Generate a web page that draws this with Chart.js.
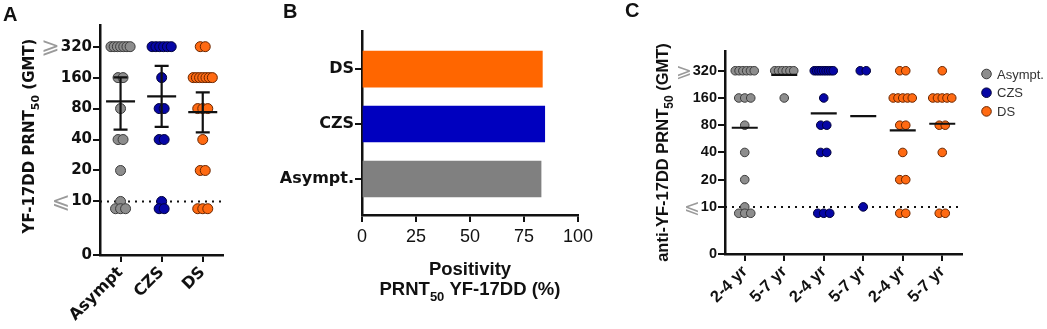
<!DOCTYPE html>
<html>
<head>
<meta charset="utf-8">
<script src="https://cdn.jsdelivr.net/npm/chart.js@4.4.1/dist/chart.umd.min.js"></script>
<style>
  html, body { margin: 0; padding: 0; background: #fff; }
  #wrap { position: relative; width: 1047px; height: 329px; overflow: hidden; }
  .panel { position: absolute; top: 0; }
</style>
</head>
<body>
<div id="wrap">
  <canvas id="chartA" class="panel" style="left:0" width="240" height="329"></canvas>
  <canvas id="chartB" class="panel" style="left:235px" width="362" height="329"></canvas>
  <canvas id="chartC" class="panel" style="left:590px" width="457" height="329"></canvas>
</div>
<script>
// ---- données ----
const groups = ['Asympt.', 'CZS', 'DS']
const groupFill = ['#8d8d8d', '#0606a6', '#ff6a12']
const groupEdge = ['#3c3c3c', '#00003a', '#6a2600']
const barColors = ['#808080', '#0000bf', '#ff6600']

const threshold = 10
const yTicks = [10, 20, 40, 80, 160, 320]

// Panel A : titres PRNT50 par groupe
const labelsA = ['Asympt', 'CZS', 'DS']
const titersAsympt = [320, 320, 320, 320, 320, 320, 320, 160, 160, 80, 40, 40, 20, 10, 8.5, 8.5, 8.5]
const titersCZS = [320, 320, 320, 320, 320, 320, 160, 80, 80, 40, 40, 10, 8.5, 8.5]
const titersDS = [320, 320, 160, 160, 160, 160, 160, 160, 160, 80, 80, 80, 40, 20, 20, 8.5, 8.5, 8.5]
const gmtA = [94, 105, 74]
const gmtLowA = [50, 53, 47]
const gmtHighA = [161, 208, 115]

// Panel B : positivité (%)
const labelsB = ['Asympt.', 'CZS', 'DS']
const positivity = [82.9, 84.6, 83.5]

// Panel C : titres par tranche d'âge
const labelsC = ['2-4 yr', '5-7 yr', '2-4 yr', '5-7 yr', '2-4 yr', '5-7 yr']
const titersAsympt24 = [320, 320, 320, 320, 320, 320, 160, 160, 160, 80, 40, 20, 10, 8.5, 8.5, 8.5]
const titersAsympt57 = [320, 320, 320, 320, 320, 320, 160]
const titersCZS24 = [320, 320, 320, 320, 320, 320, 320, 320, 320, 160, 80, 80, 40, 40, 8.5, 8.5, 8.5]
const titersCZS57 = [320, 320, 10]
const titersDS24 = [320, 320, 160, 160, 160, 160, 160, 80, 80, 40, 20, 20, 8.5, 8.5]
const titersDS57 = [320, 160, 160, 160, 160, 160, 80, 80, 40, 8.5, 8.5]
const gmtC = [75, 288, 108, 101, 70, 83]

// ---- helpers ----
const breakPos = -1.73 // position du "0" sur l'axe (coupure)
const lg = (v) => Math.log2(v / threshold)
const ink = '#111'

// étale les points de même valeur autour de la catégorie
function spread(titers, cat, pxPerUnit, maxStep, maxSpan) {
  const counts = {}
  titers.forEach((v) => (counts[v] = (counts[v] || 0) + 1))
  const out = []
  Object.keys(counts).forEach((k) => {
    const n = counts[k]
    const step = n > 1 ? Math.min(maxStep, maxSpan / (n - 1)) : 0
    for (let i = 0; i < n; i++) {
      out.push({ x: cat + ((i - (n - 1) / 2) * step) / pxPerUnit, y: lg(+k) })
    }
  })
  return out
}

function richText(ctx, parts, x, y, size, family, align, rotate) {
  ctx.save()
  ctx.translate(x, y)
  if (rotate) ctx.rotate(-Math.PI / 2)
  const fonts = parts.map((p) => `bold ${p[1] ? Math.round(size * 0.7) : size}px ${family}`)
  let total = 0
  const widths = parts.map((p, i) => {
    ctx.font = fonts[i]
    const w = ctx.measureText(p[0]).width
    total += w
    return w
  })
  let cx = align === 'center' ? -total / 2 : 0
  ctx.textAlign = 'left'
  ctx.textBaseline = 'alphabetic'
  ctx.fillStyle = ink
  parts.forEach((p, i) => {
    ctx.font = fonts[i]
    ctx.fillText(p[0], cx, p[1] ? size * 0.3 : 0)
    cx += widths[i]
  })
  ctx.restore()
}

function letter(ctx, txt, x, y) {
  ctx.save()
  ctx.font = 'bold 20px "Liberation Sans", Arial, sans-serif'
  ctx.fillStyle = ink
  ctx.textBaseline = 'alphabetic'
  ctx.fillText(txt, x, y)
  ctx.restore()
}

// symboles ⩾ / ⩽ gris devant 320 et 10
function bounds(chart, fontStr, symSize) {
  const s = chart.scales.y
  const ctx = chart.ctx
  ctx.save()
  ctx.font = fontStr
  const right = s.right - 8
  const w320 = ctx.measureText('320').width
  const w10 = ctx.measureText('10').width
  ctx.font = `${symSize}px "DejaVu Sans", sans-serif`
  ctx.fillStyle = '#9a9a9a'
  ctx.textAlign = 'right'
  ctx.textBaseline = 'middle'
  ctx.fillText('⩾', right - w320 - 1, s.getPixelForValue(lg(320)) + 1)
  ctx.fillText('⩽', right - w10 - 1, s.getPixelForValue(lg(10)) + 1)
  ctx.restore()
}

function titerAxis(width, font) {
  return {
    type: 'linear',
    min: breakPos,
    max: 5.7,
    afterBuildTicks: (s) => {
      s.ticks = [breakPos, ...yTicks.map(lg)].map((v) => ({ value: v }))
    },
    ticks: {
      callback: (v) => (v === breakPos ? '0' : String(Math.round(threshold * 2 ** v))),
      color: ink,
      font: font,
      padding: 1,
    },
    grid: { drawOnChartArea: false, tickLength: 7, color: ink, lineWidth: 2 },
    border: { color: ink, width: 2.5 },
    afterFit: (s) => {
      s.width = width
      s.paddingTop = 0
      s.paddingBottom = 0
    },
  }
}

function catAxis(labels, height, font) {
  return {
    type: 'linear',
    min: -0.5,
    max: labels.length - 0.5,
    afterBuildTicks: (s) => {
      s.ticks = labels.map((_, i) => ({ value: i }))
    },
    ticks: { callback: (v) => labels[v], minRotation: 45, maxRotation: 45, color: ink, font: font, padding: 1 },
    grid: { drawOnChartArea: false, tickLength: 7, color: ink, lineWidth: 2 },
    border: { color: ink, width: 2.5 },
    afterFit: (s) => {
      s.height = height
      s.paddingLeft = 0
      s.paddingRight = 0
    },
  }
}

function pointSet(data, g, radius, order) {
  return {
    type: 'scatter',
    data: data,
    backgroundColor: groupFill[g],
    borderColor: groupEdge[g],
    borderWidth: 1,
    pointRadius: radius,
    order: order,
  }
}

function thresholdSet(n) {
  return {
    type: 'line',
    data: [{ x: -0.5, y: lg(threshold) }, { x: n - 0.5, y: lg(threshold) }],
    borderColor: ink,
    borderWidth: 2,
    borderDash: [2, 5],
    pointRadius: 0,
    order: 10,
  }
}

const baseOpts = {
  responsive: false,
  animation: false,
  devicePixelRatio: 1,
  plugins: { legend: { display: false }, tooltip: { enabled: false } },
}

// ---- Panel A ----
const fontA = { family: '"DejaVu Sans", sans-serif', size: 15, weight: 'bold' }
const dsA = [
  thresholdSet(labelsA.length),
  pointSet(spread(titersAsympt, 0, 45, 5.5, 21), 0, 5, 3),
  pointSet(spread(titersCZS, 1, 45, 5.5, 21), 1, 5, 3),
  pointSet(spread(titersDS, 2, 45, 5.5, 21), 2, 5, 3),
  {
    type: 'scatter',
    data: gmtA.map((v, i) => ({ x: i, y: lg(v) })),
    pointStyle: 'line',
    pointRadius: 14.5,
    borderColor: ink,
    borderWidth: 2.2,
    order: 1,
  },
]
gmtA.forEach((_, i) => {
  dsA.push({
    type: 'line',
    data: [{ x: i, y: lg(gmtLowA[i]) }, { x: i, y: lg(gmtHighA[i]) }],
    borderColor: ink,
    borderWidth: 2.2,
    pointStyle: 'line',
    pointRadius: 7,
    pointBorderWidth: 2.2,
    pointBorderColor: ink,
    order: 1,
  })
})

new Chart(document.getElementById('chartA'), {
  type: 'scatter',
  data: { datasets: dsA },
  options: {
    ...baseOpts,
    layout: { padding: { top: 25, right: 5.5, left: 0, bottom: 0 } },
    scales: {
      x: catAxis(labelsA, 74, { family: '"DejaVu Sans", sans-serif', size: 16, weight: 'bold' }),
      y: titerAxis(100, fontA),
    },
  },
  plugins: [
    {
      id: 'decorA',
      afterDraw(chart) {
        const ctx = chart.ctx
        letter(ctx, 'A', 3, 21)
        bounds(chart, 'bold 15px "DejaVu Sans"', 22)
        richText(ctx, [['YF-17DD PRNT'], ['50', true], [' (GMT)']], 34, 136, 15, '"DejaVu Sans", sans-serif', 'center', true)
      },
    },
  ],
})

// ---- Panel B ----
new Chart(document.getElementById('chartB'), {
  type: 'bar',
  data: {
    datasets: [
      {
        data: positivity.map((v, i) => ({ x: v, y: i + 1 })),
        backgroundColor: barColors,
        borderWidth: 0,
        barThickness: 36,
      },
    ],
  },
  options: {
    ...baseOpts,
    indexAxis: 'y',
    layout: { padding: { top: 31.7, right: 19, left: 0, bottom: 0 } },
    scales: {
      y: {
        type: 'linear',
        offset: false,
        min: 0.345,
        max: 3.68,
        afterBuildTicks: (s) => {
          s.ticks = labelsB.map((_, i) => ({ value: i + 1 }))
        },
        ticks: {
          callback: (v) => labelsB[v - 1],
          color: ink,
          font: { family: '"DejaVu Sans", sans-serif', size: 16, weight: 'bold' },
          padding: 1,
        },
        grid: { offset: false, drawOnChartArea: false, tickLength: 7, color: ink, lineWidth: 2 },
        border: { color: ink, width: 2.5 },
        afterFit: (s) => {
          s.width = 127
          s.paddingTop = 0
          s.paddingBottom = 0
        },
      },
      x: {
        type: 'linear',
        min: 0,
        max: 100,
        ticks: { stepSize: 25, color: ink, font: { family: '"Liberation Sans", Arial, sans-serif', size: 18 }, padding: 4 },
        grid: { drawOnChartArea: false, tickLength: 7, color: ink, lineWidth: 2 },
        border: { color: ink, width: 2.5 },
        afterFit: (s) => {
          s.height = 114
          s.paddingLeft = 0
          s.paddingRight = 0
        },
      },
    },
  },
  plugins: [
    {
      id: 'decorB',
      afterDraw(chart) {
        const ctx = chart.ctx
        const a = chart.chartArea
        const cx = (a.left + a.right) / 2
        letter(ctx, 'B', 283 - 235, 18)
        richText(ctx, [['Positivity']], cx, 275, 18.5, '"Liberation Sans", Arial, sans-serif', 'center', false)
        richText(ctx, [['PRNT'], ['50', true], [' YF-17DD (%)']], cx, 295, 18.5, '"Liberation Sans", Arial, sans-serif', 'center', false)
      },
    },
  ],
})

// ---- Panel C ----
const setsC = [
  [titersAsympt24, 0, 0],
  [titersAsympt57, 1, 0],
  [titersCZS24, 2, 1],
  [titersCZS57, 3, 1],
  [titersDS24, 4, 2],
  [titersDS57, 5, 2],
]
const dsC = [thresholdSet(labelsC.length)]
setsC.forEach(([t, cat, g]) => dsC.push(pointSet(spread(t, cat, 39.5, 6, 19), g, 4.3, 3)))
dsC.push({
  type: 'scatter',
  data: gmtC.map((v, i) => ({ x: i, y: lg(v) })),
  pointStyle: 'line',
  pointRadius: 13,
  borderColor: ink,
  borderWidth: 2.2,
  order: 1,
})

new Chart(document.getElementById('chartC'), {
  type: 'scatter',
  data: { datasets: dsC },
  options: {
    ...baseOpts,
    layout: { padding: { top: 51.7, right: 85, left: 0, bottom: 0 } },
    scales: {
      x: catAxis(labelsC, 75, { family: '"Liberation Sans", Arial, sans-serif', size: 16.5, weight: 'bold' }),
      y: titerAxis(135, { family: '"Liberation Sans", Arial, sans-serif', size: 14.5, weight: 'bold' }),
    },
  },
  plugins: [
    {
      id: 'decorC',
      afterDraw(chart) {
        const ctx = chart.ctx
        letter(ctx, 'C', 625 - 590, 17)
        bounds(chart, 'bold 14.5px "Liberation Sans"', 19)
        richText(ctx, [['anti-YF-17DD PRNT'], ['50', true], [' (GMT)']], 668 - 590, 152.5, 16.5, '"Liberation Sans", Arial, sans-serif', 'center', true)
        // légende
        ctx.save()
        ctx.font = '13px "Liberation Sans", Arial, sans-serif'
        ctx.textBaseline = 'middle'
        groups.forEach((name, g) => {
          const y = 74 + g * 18.7
          ctx.beginPath()
          ctx.arc(986.5 - 590, y, 4.8, 0, Math.PI * 2)
          ctx.fillStyle = groupFill[g]
          ctx.fill()
          ctx.lineWidth = 1
          ctx.strokeStyle = groupEdge[g]
          ctx.stroke()
          ctx.fillStyle = '#333'
          ctx.fillText(name, 997 - 590, y + 1)
        })
        ctx.restore()
      },
    },
  ],
})
</script>
</body>
</html>
